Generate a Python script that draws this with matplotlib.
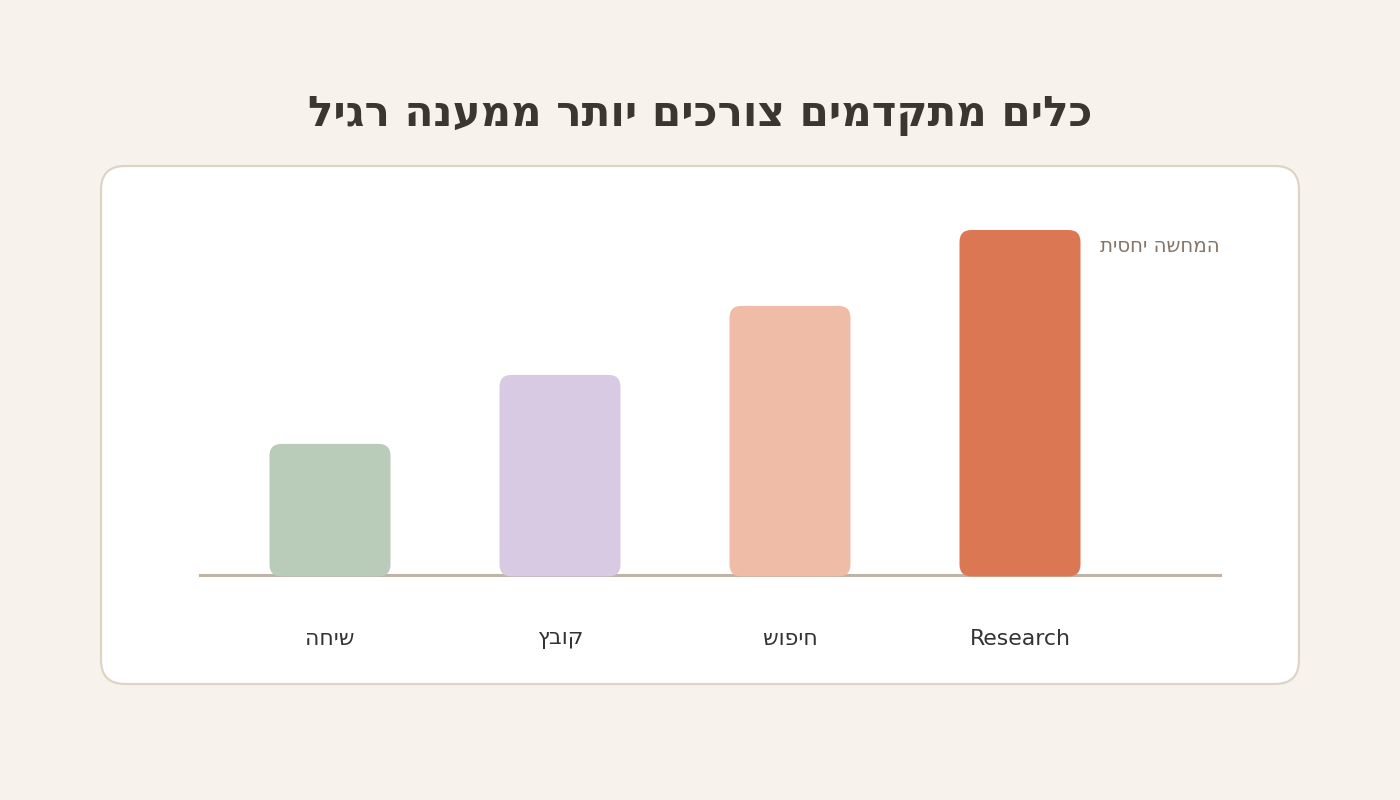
import matplotlib
matplotlib.use("Agg")
from matplotlib import pyplot as plt
from matplotlib.patches import FancyBboxPatch

# data
categories = ["שיחה", "קובץ", "חיפוש", "Research"]
values = [38, 58, 78, 100]
colors = ["#B8CCB9", "#D8CAE3", "#EFBCA7", "#DB7853"]
title = "כלים מתקדמים צורכים יותר ממענה רגיל"
note = "המחשה יחסית"


def rtl(s):
    # matplotlib lays glyphs out left to right, so flip hebrew strings by hand
    if any("\u0590" <= c <= "\u05ff" for c in s):
        return s[::-1]
    return s


plt.rcParams['font.family'] = ['DejaVu Sans']
W, H = 1400, 800
fig = plt.figure(figsize=(14, 8), dpi=100)
fig.patch.set_facecolor("#F7F3EC")

# background axes in pixel coords for card + title
bg = fig.add_axes([0, 0, 1, 1])
bg.set_xlim(0, W)
bg.set_ylim(H, 0)
bg.axis("off")
card = FancyBboxPatch((101, 166), 1198, 518,
                      boxstyle="round,pad=0,rounding_size=24",
                      facecolor="white", edgecolor="#DED4C6", linewidth=1.6)
bg.add_patch(card)
bg.text(700, 115, rtl(title), ha="center", va="center",
        fontsize=30.3, fontweight="bold", color="#3A3630")

# bar axes: baseline at y=575px, value 100 at y=230px, x from 200 to 1220
left, right, base, top = 200, 1220, 575, 230
ax = fig.add_axes([left / W, (H - base) / H, (right - left) / W, (base - top) / H])
ax.patch.set_alpha(0)
step = 230.0
ax.set_xlim(-(330 - left) / step, (right - 330) / step)
ax.set_ylim(0, 100)
ax.axis("off")

bw = 121 / step
aspect = (100 / (base - top)) / (1 / step)
for i, (v, c) in enumerate(zip(values, colors)):
    p = FancyBboxPatch((i - bw / 2, -0.4), bw, v + 0.4,
                       boxstyle="round,pad=0,rounding_size=%f" % (12 / step),
                       mutation_aspect=aspect,
                       facecolor=c, edgecolor="none", zorder=3, clip_on=False)
    ax.add_patch(p)
    ax.text(i, -64 * 100 / (base - top), rtl(categories[i]), ha="center", va="center",
            fontsize=15.8, color="#333333", clip_on=False)

ax.axhline(0, color="#C0B4A8", linewidth=2.2, zorder=2, clip_on=False)
ax.text(1.0, 1 - 17 / (base - top), rtl(note), transform=ax.transAxes,
        ha="right", va="center", fontsize=14.2, color="#857568")

fig.savefig("out.png", dpi=100, facecolor=fig.get_facecolor())
